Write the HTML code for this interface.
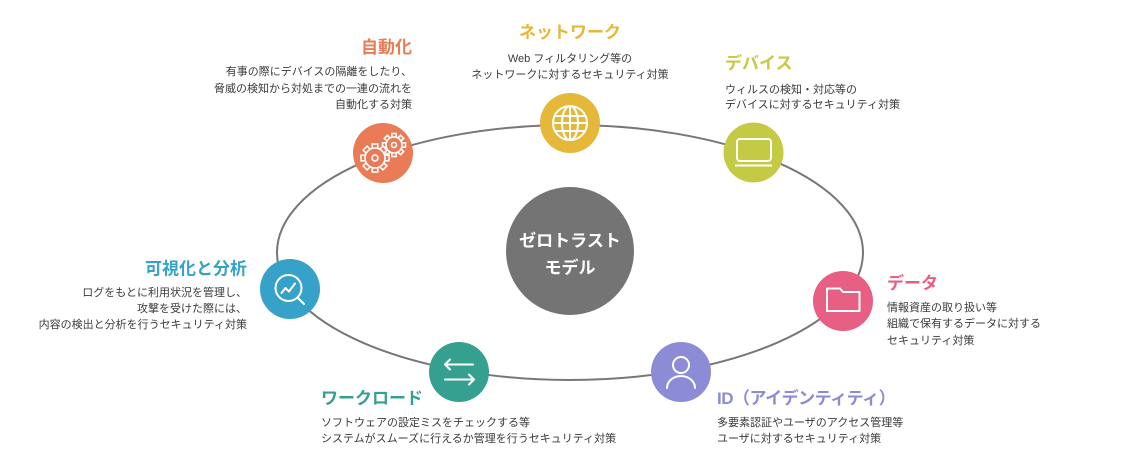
<!DOCTYPE html>
<html><head><meta charset="utf-8"><style>
html,body{margin:0;padding:0;background:#fff;}
svg{display:block;}
text{font-family:"Liberation Sans","Noto Sans CJK JP",sans-serif;}
.t{font-size:17px;font-weight:bold;}
.d{font-size:11px;fill:#3a3a3a;}
</style></head><body>
<svg width="1140" height="461" viewBox="0 0 1140 461" xmlns="http://www.w3.org/2000/svg">
<ellipse cx="570" cy="252.5" rx="293" ry="127.5" fill="none" stroke="#777" stroke-width="2"/>
<circle cx="570" cy="251" r="64" fill="#747474"/>
<text x="570" y="246.5" text-anchor="middle" class="t" fill="#fff">ゼロトラスト</text>
<text x="570" y="273.5" text-anchor="middle" class="t" fill="#fff">モデル</text>

<!-- 自動化 -->
<circle cx="383" cy="153" r="30" fill="#E97B56"/>
<g fill="#E97B56" stroke="#fff" stroke-width="1.6">
 <g transform="translate(394,145)">
  <rect x="-2.2" y="-11.5" width="4.4" height="4.5" transform="rotate(0)"/><rect x="-2.2" y="-11.5" width="4.4" height="4.5" transform="rotate(45)"/><rect x="-2.2" y="-11.5" width="4.4" height="4.5" transform="rotate(90)"/><rect x="-2.2" y="-11.5" width="4.4" height="4.5" transform="rotate(135)"/><rect x="-2.2" y="-11.5" width="4.4" height="4.5" transform="rotate(180)"/><rect x="-2.2" y="-11.5" width="4.4" height="4.5" transform="rotate(225)"/><rect x="-2.2" y="-11.5" width="4.4" height="4.5" transform="rotate(270)"/><rect x="-2.2" y="-11.5" width="4.4" height="4.5" transform="rotate(315)"/>
  <circle r="8"/><circle r="2.5"/>
 </g>
 <g transform="translate(375,158)">
  <rect x="-2.8" y="-14" width="5.6" height="5.5" transform="rotate(0)"/><rect x="-2.8" y="-14" width="5.6" height="5.5" transform="rotate(45)"/><rect x="-2.8" y="-14" width="5.6" height="5.5" transform="rotate(90)"/><rect x="-2.8" y="-14" width="5.6" height="5.5" transform="rotate(135)"/><rect x="-2.8" y="-14" width="5.6" height="5.5" transform="rotate(180)"/><rect x="-2.8" y="-14" width="5.6" height="5.5" transform="rotate(225)"/><rect x="-2.8" y="-14" width="5.6" height="5.5" transform="rotate(270)"/><rect x="-2.8" y="-14" width="5.6" height="5.5" transform="rotate(315)"/>
  <circle r="10"/><circle r="3"/>
 </g>
</g>
<text x="412" y="53" text-anchor="end" class="t" fill="#E97B56">自動化</text>
<text x="412" y="75" text-anchor="end" class="d">有事の際にデバイスの隔離をしたり、</text>
<text x="412" y="92" text-anchor="end" class="d">脅威の検知から対処までの一連の流れを</text>
<text x="412" y="108" text-anchor="end" class="d">自動化する対策</text>

<!-- ネットワーク -->
<circle cx="570" cy="123" r="30" fill="#E6B83A"/>
<g fill="none" stroke="#fff" stroke-width="2">
 <circle cx="570" cy="123" r="17"/>
 <ellipse cx="570" cy="123" rx="8" ry="17"/>
 <line x1="570" y1="106" x2="570" y2="140"/>
 <line x1="554" y1="116" x2="586" y2="116"/>
 <line x1="553" y1="123" x2="587" y2="123"/>
 <line x1="554" y1="131" x2="586" y2="131"/>
</g>
<text x="570" y="38" text-anchor="middle" class="t" fill="#E6B83A">ネットワーク</text>
<text x="570" y="62" text-anchor="middle" class="d">Web フィルタリング等の</text>
<text x="570" y="78" text-anchor="middle" class="d">ネットワークに対するセキュリティ対策</text>

<!-- デバイス -->
<circle cx="753.5" cy="152.5" r="30" fill="#C5CA45"/>
<g fill="none" stroke="#fff" stroke-width="2">
 <rect x="737" y="139" width="34" height="22" rx="3"/>
 <line x1="735" y1="165.5" x2="772" y2="165.5"/>
</g>
<text x="725" y="69" class="t" fill="#C5CA45">デバイス</text>
<text x="725" y="93" class="d">ウィルスの検知・対応等の</text>
<text x="725" y="108" class="d">デバイスに対するセキュリティ対策</text>

<!-- 可視化と分析 -->
<circle cx="290" cy="289" r="30" fill="#37A2C9"/>
<g fill="none" stroke="#fff" stroke-width="2" stroke-linecap="round" stroke-linejoin="round">
 <circle cx="288.5" cy="288" r="13"/>
 <line x1="298" y1="298" x2="304" y2="304"/>
 <polyline points="281.5,293 285.5,288 289,291.5 295,283.5"/>
</g>
<text x="247" y="274.5" text-anchor="end" class="t" fill="#37A2C9">可視化と分析</text>
<text x="247" y="296" text-anchor="end" class="d">ログをもとに利用状況を管理し、</text>
<text x="247" y="312" text-anchor="end" class="d">攻撃を受けた際には、</text>
<text x="247" y="328" text-anchor="end" class="d">内容の検出と分析を行うセキュリティ対策</text>

<!-- データ -->
<circle cx="843" cy="301" r="30" fill="#E85F84"/>
<path d="M827,311 V288.5 H840 L843,292 H859.5 V311 Z" fill="none" stroke="#fff" stroke-width="2" stroke-linejoin="round"/>
<text x="887" y="289" class="t" fill="#E85F84">データ</text>
<text x="887" y="311" class="d">情報資産の取り扱い等</text>
<text x="887" y="327" class="d">組織で保有するデータに対する</text>
<text x="887" y="344" class="d">セキュリティ対策</text>

<!-- ワークロード -->
<circle cx="459" cy="372" r="30" fill="#35A090"/>
<g fill="none" stroke="#fff" stroke-width="2" stroke-linecap="round" stroke-linejoin="round">
 <line x1="445" y1="364.5" x2="473" y2="364.5"/>
 <polyline points="450,359.5 445,364.5 450,369.5"/>
 <line x1="445" y1="379.5" x2="474" y2="379.5"/>
 <polyline points="469,374.5 474,379.5 469,384.5"/>
</g>
<text x="321" y="404" class="t" fill="#35A090">ワークロード</text>
<text x="321" y="426" class="d">ソフトウェアの設定ミスをチェックする等</text>
<text x="321" y="442" class="d">システムがスムーズに行えるか管理を行うセキュリティ対策</text>

<!-- ID -->
<circle cx="681" cy="372" r="30" fill="#8B8BD6"/>
<g fill="none" stroke="#fff" stroke-width="2" stroke-linecap="round">
 <circle cx="681" cy="365" r="8"/>
 <path d="M667,388 A14,12 0 0 1 695,388"/>
</g>
<text x="717" y="404" class="t" fill="#8B8BD6" letter-spacing="-0.5">ID（アイデンティティ）</text>
<text x="717" y="426" class="d">多要素認証やユーザのアクセス管理等</text>
<text x="717" y="442" class="d">ユーザに対するセキュリティ対策</text>
</svg>
</body></html>
